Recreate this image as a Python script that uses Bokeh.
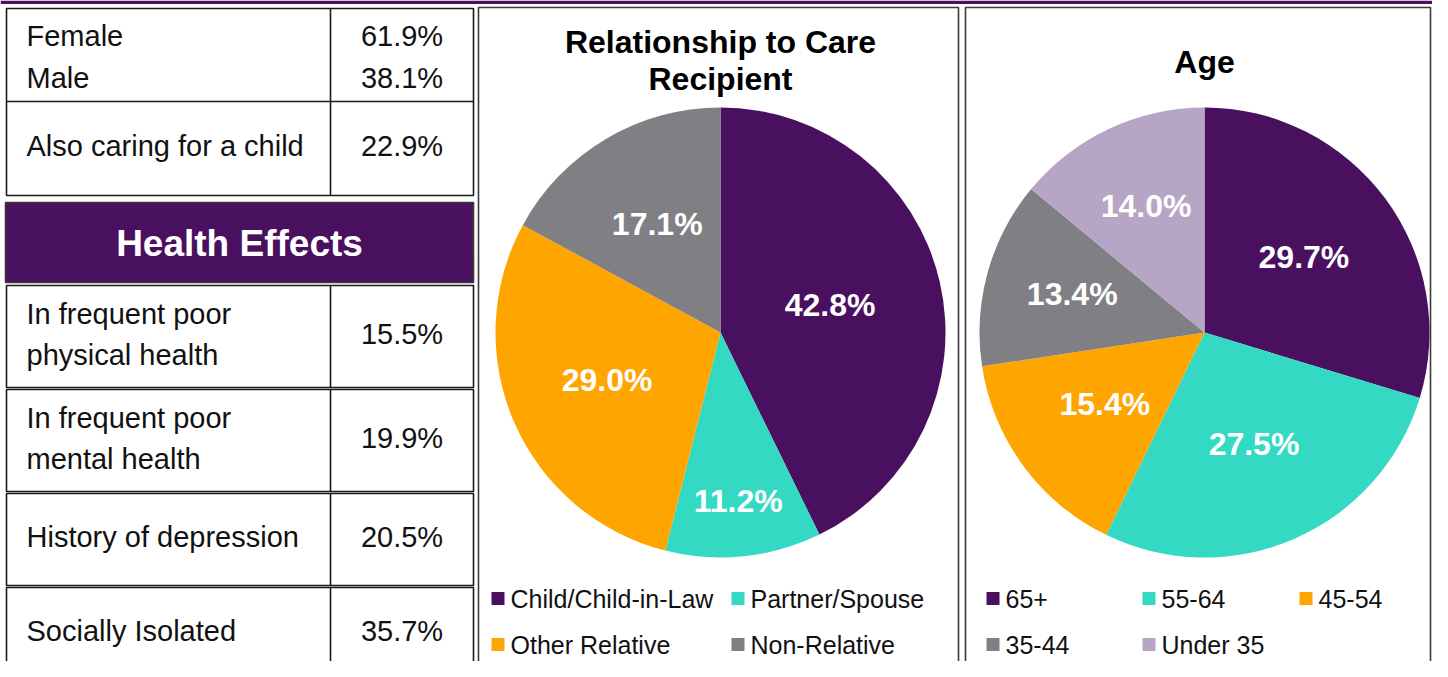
import math
from bokeh.plotting import figure
from bokeh.models import Range1d, ColumnDataSource
from bokeh.core.properties import value
from bokeh.embed import file_html
from bokeh.resources import INLINE

# ---------------- data ----------------
gender_labels = ["Female", "Male"]
gender_values = [61.9, 38.1]
child_label = "Also caring for a child"
child_value = 22.9

health_title = "Health Effects"
health_labels = ["In frequent poor\nphysical health", "In frequent poor\nmental health",
                 "History of depression", "Socially Isolated"]
health_values = [15.5, 19.9, 20.5, 35.7]

rel_title = ["Relationship to Care", "Recipient"]
rel_categories = ["Child/Child-in-Law", "Partner/Spouse", "Other Relative", "Non-Relative"]
rel_values = [42.8, 11.2, 29.0, 17.1]

age_title = ["Age"]
age_categories = ["65+", "55-64", "45-54", "35-44", "Under 35"]
age_values = [29.7, 27.5, 15.4, 13.4, 14.0]

# ---------------- style ----------------
PURPLE = "#4A1060"
TEAL = "#34D9C4"
ORANGE = "#FFA500"
GRAY = "#808084"
LILAC = "#B6A5C4"
rel_colors = [PURPLE, TEAL, ORANGE, GRAY]
age_colors = [PURPLE, TEAL, ORANGE, GRAY, LILAC]
FONT = value("Liberation Sans")
BORDER = "#1a1a1a"

W, H = 1432, 661  # design space in pixels, measured top-down

p = figure(width=W, height=H, x_range=Range1d(0, W), y_range=Range1d(0, H),
           output_backend="svg", toolbar_location=None, min_border=0,
           x_axis_location=None, y_axis_location=None)
p.grid.visible = False
p.outline_line_color = None
p.background_fill_color = "white"
p.border_fill_color = "white"


def Y(y):
    return H - y


def box(x0, x1, y0, y1, fill="white", line=BORDER, lw=1.6):
    p.quad(left=[x0], right=[x1], top=[Y(y0)], bottom=[Y(y1)],
           fill_color=fill, line_color=line, line_width=lw)


def vline(x, y0, y1, line=BORDER, lw=1.6):
    p.segment(x0=[x], y0=[Y(y0)], x1=[x], y1=[Y(y1)], line_color=line, line_width=lw)


def hline(x0, x1, y, line=BORDER, lw=1.6):
    p.segment(x0=[x0], y0=[Y(y)], x1=[x1], y1=[Y(y)], line_color=line, line_width=lw)


def txt(x, y, s, size, color="#111111", bold=False, align="left"):
    p.text(x=[x], y=[Y(y)], text=[s], text_font=FONT, text_font_size=f"{size}px",
           text_color=color, text_font_style="bold" if bold else "normal",
           text_align=align, text_baseline="middle")


def pct(v):
    return f"{v:.1f}%"


# top rule
p.quad(left=[0], right=[W], top=[Y(0)], bottom=[Y(3.5)], fill_color=PURPLE, line_color=None)

# ---------------- left table ----------------
TL, TR, TC = 6, 473, 330
VAL_X = (TC + TR) / 2
LABEL_X = 26
FS = 29
LINE_GAP = 42

# block 1
box(TL, TR, 8, 195)
vline(TC, 8, 195)
hline(TL, TR, 101)
g_center = (8 + 101) / 2 + 2
for i, (lab, v) in enumerate(zip(gender_labels, gender_values)):
    yy = g_center + (i - (len(gender_labels) - 1) / 2) * LINE_GAP
    txt(LABEL_X, yy, lab, FS)
    txt(VAL_X, yy, pct(v), FS, align="center")
c_center = (101 + 195) / 2 - 2.5
txt(LABEL_X, c_center, child_label, FS)
txt(VAL_X, c_center, pct(child_value), FS, align="center")

# header
box(5, TR, 202, 282, fill=PURPLE, line="#3a3a3a")
txt((5 + TR) / 2, 243, health_title, 37, color="white", bold=True, align="center")

# health rows
row_tops = [285, 389, 493, 587]
row_bottoms = [387, 491, 585, 679]
for top, bot, lab, v in zip(row_tops, row_bottoms, health_labels, health_values):
    box(TL, TR, top, bot)
    vline(TC, top, bot)
    center = (top + bot) / 2 - 2.5
    lines = lab.split("\n")
    for j, ln in enumerate(lines):
        yy = center + (j - (len(lines) - 1) / 2) * 41
        txt(LABEL_X, yy, ln, FS)
    txt(VAL_X, center, pct(v), FS, align="center")

# ---------------- pie panels ----------------
box(478, 958, 7, 700, line="#3a3a3a")
box(965, W - 2, 7, 700, line="#3a3a3a")

R = 225


def label_frac(v):
    # "best fit" style placement: narrow slices get their label pushed outward
    if v < 12:
        return 0.76
    if v < 15:
        return 0.61
    if v > 40:
        return 0.5
    return 0.55


def pie(cx, cy, values, colors, title_lines, title_y, legend_cols, legend_rows, cats):
    total = sum(values)
    cum = 0.0
    starts, ends, lx, ly, labs = [], [], [], [], []
    for v in values:
        c0 = cum / total
        c1 = (cum + v) / total
        cum += v
        starts.append(math.pi / 2 - 2 * math.pi * c1)
        ends.append(math.pi / 2 - 2 * math.pi * c0)
        mid = math.pi / 2 - 2 * math.pi * (c0 + c1) / 2
        frac = label_frac(v)
        lx.append(cx + frac * R * math.cos(mid))
        ly.append(Y(cy) + frac * R * math.sin(mid) + 2)
        labs.append(pct(v))
    src = ColumnDataSource(dict(start=starts, end=ends, color=colors))
    p.wedge(x=cx, y=Y(cy), radius=R, start_angle="start",
            end_angle="end", fill_color="color", line_color=None, source=src,
            direction="anticlock")
    p.text(x=lx, y=ly, text=labs, text_font=FONT, text_font_size="32px",
           text_font_style="bold", text_color="white", text_align="center",
           text_baseline="middle")
    for k, t in enumerate(title_lines):
        txt(cx, title_y[k], t, 32, color="black", bold=True, align="center")
    ncol = len(legend_cols)
    sx, sy, tx, ty = [], [], [], []
    for i, cat in enumerate(cats):
        col = legend_cols[i % ncol]
        row = legend_rows[i // ncol]
        sx.append(col + 6.5)
        sy.append(Y(row))
        tx.append(col + 19)
        ty.append(Y(row))
    p.scatter(x=sx, y=sy, marker="square", size=13, fill_color=colors, line_color=None)
    p.text(x=tx, y=ty, text=cats, text_font=FONT, text_font_size="25px",
           text_color="#111111", text_align="left", text_baseline="middle")


pie(720, 332, rel_values, rel_colors, rel_title, [41, 78.5], [491, 731], [598, 644], rel_categories)
pie(1204, 332, age_values, age_colors, age_title, [61.5], [986, 1142, 1299], [598, 644], age_categories)

open("out.html", "w").write(file_html(p, INLINE))
